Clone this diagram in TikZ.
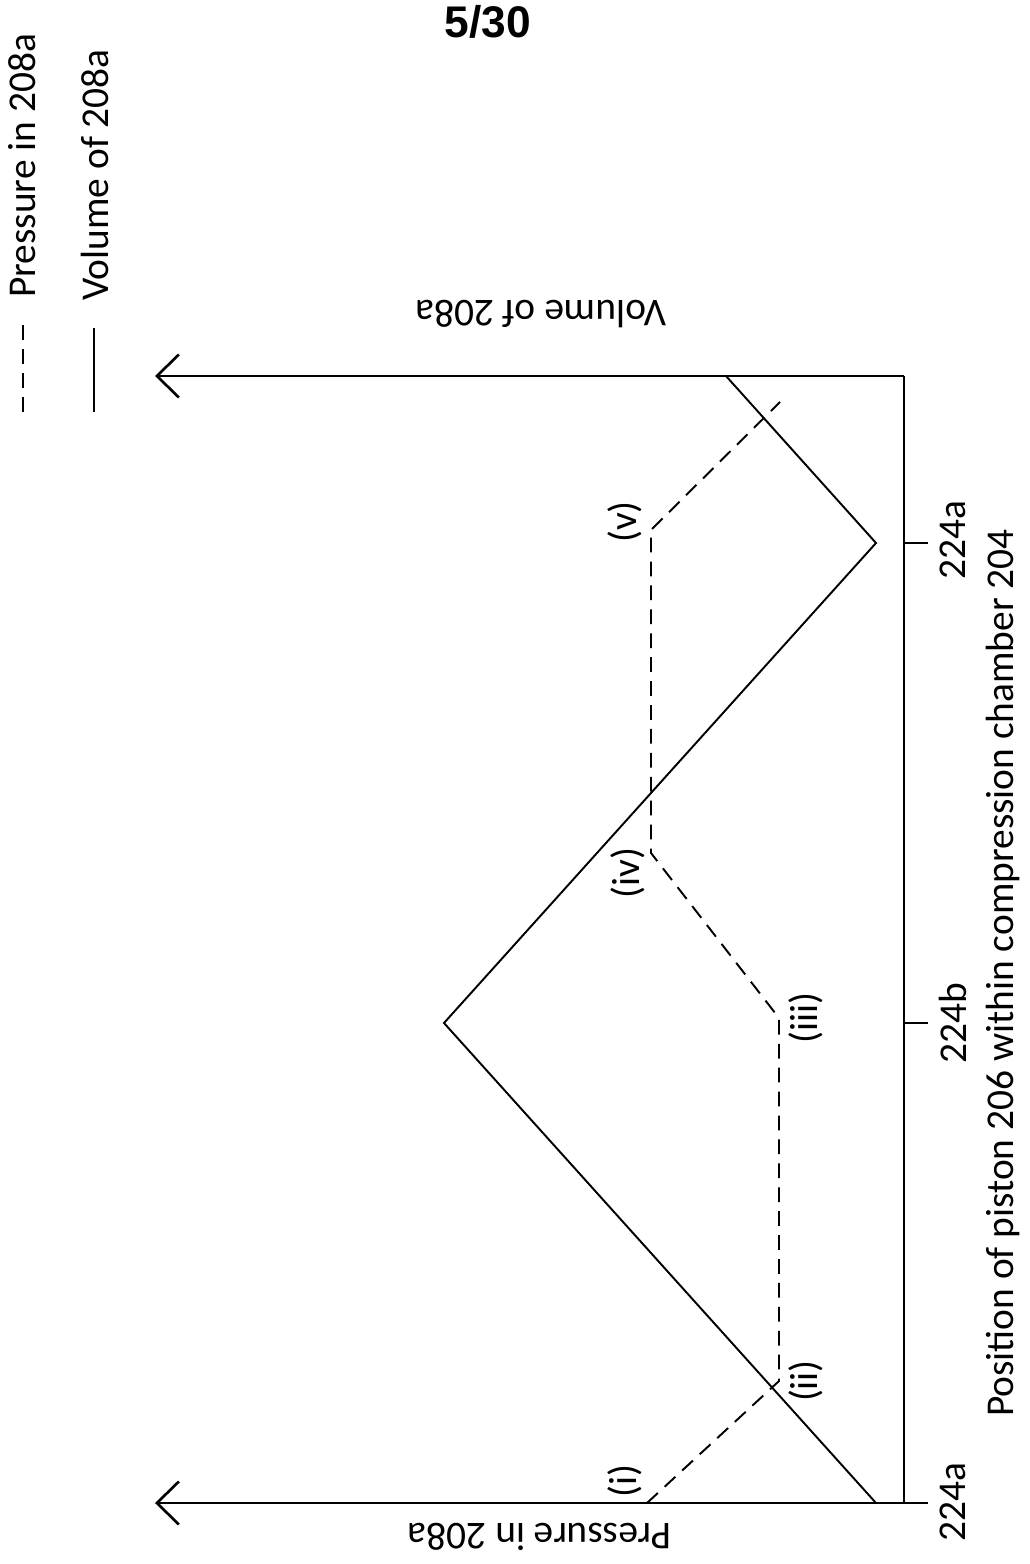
\documentclass[tikz,border=0pt]{standalone}
\usepackage{fontspec}
\setmainfont{Carlito}
\newfontfamily\titlefont{Liberation Sans}
\usetikzlibrary{arrows.meta}

\tikzset{
  axis/.style={line width=0.75pt},
  axisarrow/.style={axis, -{Straight Barb[length=0.22cm,width=0.43cm]}},
  volline/.style={line width=0.55pt},
  presline/.style={line width=0.55pt, dash pattern=on 4.2pt off 2.6pt},
  lbl/.style={font=\fontsize{11.2}{13}\selectfont, inner sep=0pt},
}

\begin{document}
\begin{tikzpicture}[x=0.01cm,y=-0.01cm] % 2 curves
      \useasboundingbox (0,0) rectangle (1029,1564);
      \node[name=title, inner sep=0pt, font=\titlefont\bfseries\fontsize{12.6}{14}\selectfont] at (488,22) {5/30};
      % legend
      \node[name=legp, lbl, rotate=90] at (22,166) {Pressure in 208a};
      \node[name=legv, lbl, rotate=90] at (95,175) {Volume of 208a};
      \draw[presline] (23,325) -- (23,412);
      \draw[volline] (94,328) -- (94,412);
      % axes
      \coordinate (o1) at (904,376);
      \coordinate (o2) at (904,1503);
      \coordinate (vtip) at (155,376);
      \coordinate (ptip) at (155,1503);
      \draw[axis] (o1) -- (o2);
      \draw[axisarrow] (o1) -- (vtip);
      \draw[axisarrow] (928,1503) -- (ptip);
      \draw[axis] (904,543) -- (928,543);
      \draw[axis] (904,1023) -- (928,1023);
      \node[name=ya, lbl, rotate=180] at (541,314) {Volume of 208a};
      \node[name=yb, lbl, rotate=180] at (540,1537) {Pressure in 208a};
      \node[name=t1, lbl, rotate=90] at (953,540) {224a};
      \node[name=t2, lbl, rotate=90] at (953,1023) {224b};
      \node[name=t3, lbl, rotate=90] at (953,1502) {224a};
      \node[name=xlab, lbl, rotate=90] at (1003,973) {Position of piston 206 within compression chamber 204};
      % volume
      \coordinate (v1) at (876,1503);
      \coordinate (v2) at (444,1023);
      \coordinate (v3) at (876,543);
      \coordinate (v4) at (726,376);
      \draw[volline] (v1) -- (v2) -- (v3) -- (v4);
      % pressure
      \coordinate (p1) at (647,1503);
      \coordinate (p2) at (779,1381);
      \coordinate (p3) at (779,1018);
      \coordinate (p4) at (651,853);
      \coordinate (p5) at (651,530);
      \coordinate (p6) at (780,402);
      \draw[presline] (p1) -- (p2) -- (p3) -- (p4) -- (p5) -- (p6);
      \node[name=s1, lbl, rotate=90] at (625,1481) {(i)};
      \node[name=s2, lbl, rotate=90] at (806,1381) {(ii)};
      \node[name=s3, lbl, rotate=90] at (806,1018) {(iii)};
      \node[name=s4, lbl, rotate=90] at (628,873) {(iv)};
      \node[name=s5, lbl, rotate=90] at (625,522) {(v)};
   \end{tikzpicture}
\end{document}
